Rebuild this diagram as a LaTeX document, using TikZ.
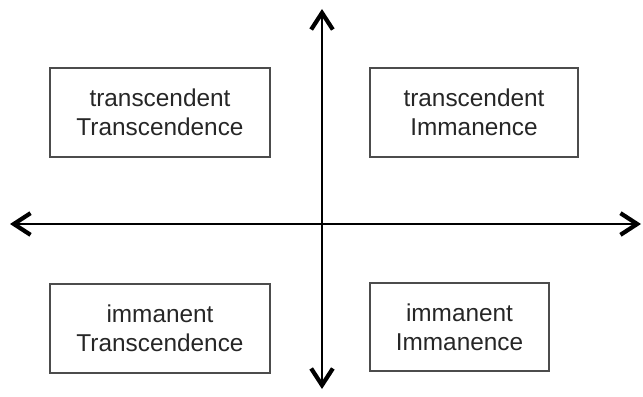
\documentclass[tikz,border=0pt]{standalone}
\usepackage{fontspec}
\setmainfont{Liberation Sans}
\usetikzlibrary{arrows.meta}
\tikzset{
  quad/.style={rectangle,draw=black!70,line width=1pt,align=center,inner sep=0pt,
    minimum width=6.6cm,minimum height=2.67cm,text=black!85,
    font=\fontsize{20.8}{24.5}\selectfont},
  axis/.style={{Straight Barb[length=5mm,width=6.5mm,line width=3.6pt]}-{Straight Barb[length=5mm,width=6.5mm,line width=3.6pt]},line width=1.7pt}
}

\begin{document}
\begin{tikzpicture}[x=0.03cm,y=-0.03cm]
\useasboundingbox (0,0) rectangle (643,397);
\coordinate (top) at (322,9);
\coordinate (bottom) at (322,389);
\coordinate (left) at (10,224);
\coordinate (right) at (641,224);
\node[quad] (tt) at (160,112.5) {transcendent\\Transcendence};
\node[quad, minimum width=6.24cm] (ti) at (474,112.5) {transcendent\\Immanence};
\node[quad] (it) at (160,328.5) {immanent\\Transcendence};
\node[quad, minimum width=5.37cm, minimum height=2.64cm] (ii) at (459.5,327) {immanent\\Immanence};
\draw[axis] (left) -- (right);
\draw[axis] (bottom) -- (top);
\end{tikzpicture}
\end{document}
